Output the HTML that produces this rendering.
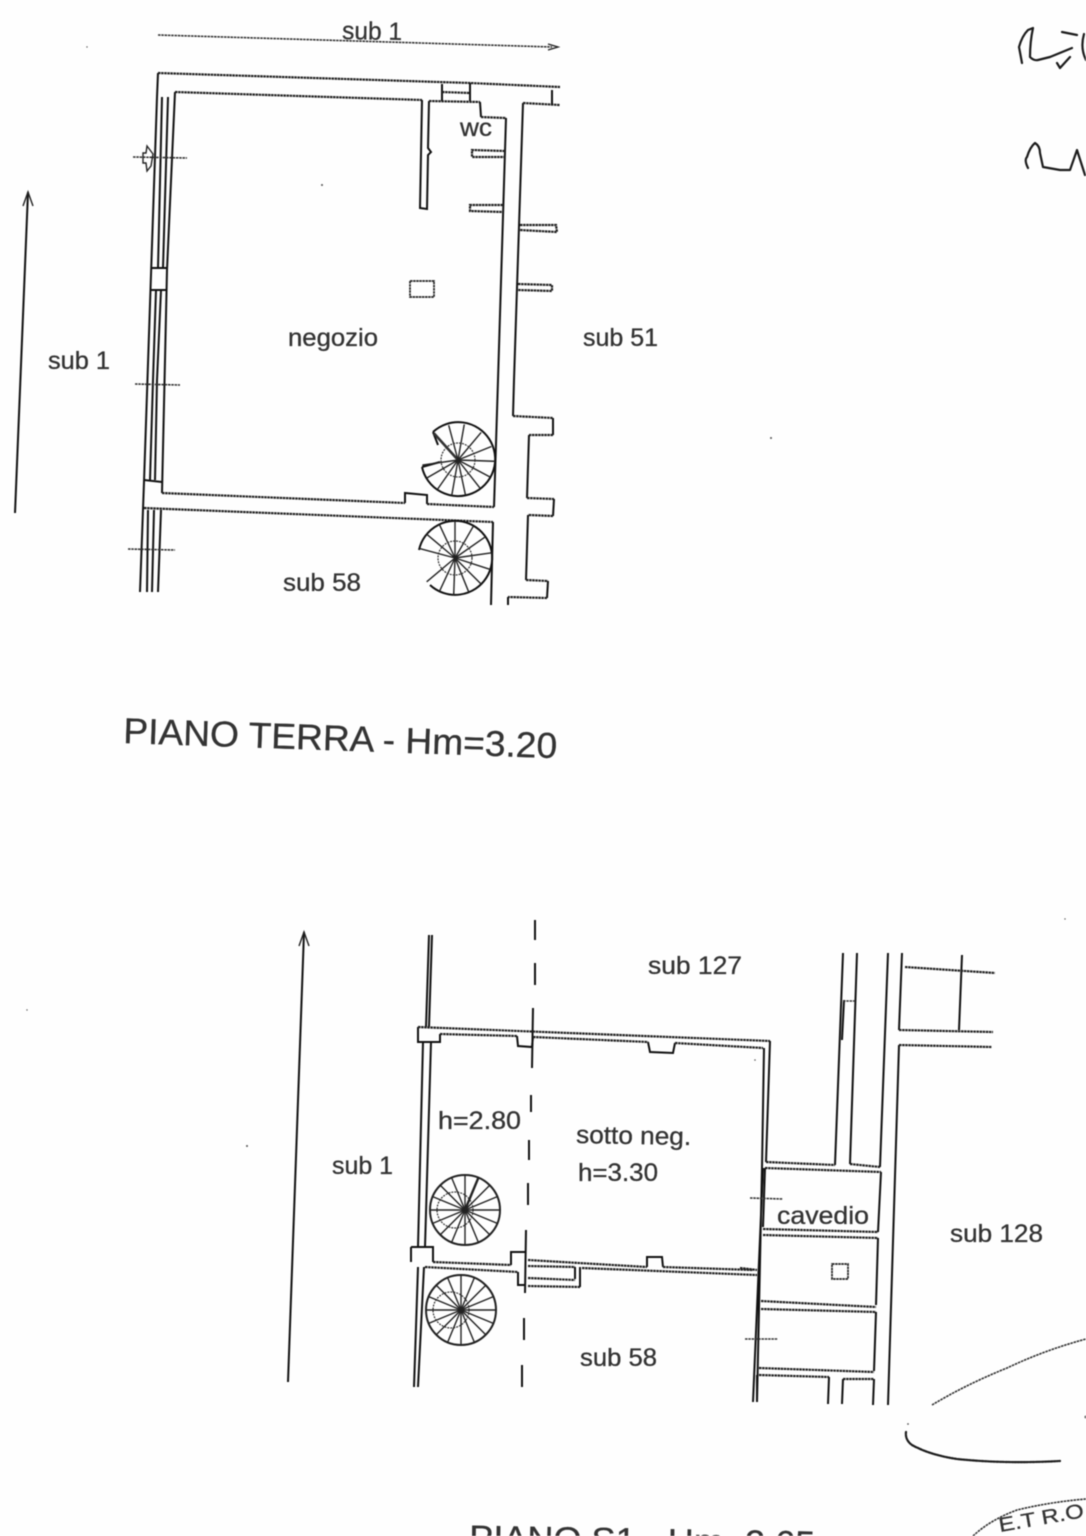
<!DOCTYPE html>
<html>
<head>
<meta charset="utf-8">
<title>Piano Terra / Piano S1</title>
<style>
html,body{margin:0;padding:0;background:#fefefe;}
body{width:1086px;height:1536px;overflow:hidden;}
svg{display:block;filter:blur(0.4px);}
.w{fill:none;stroke:#111;stroke-width:2;}
.d{fill:none;stroke:#222;stroke-width:2.2;stroke-dasharray:2.5 .6;}
.t{fill:none;stroke:#333;stroke-width:1.6;stroke-dasharray:2.5 .8;}
.s{fill:none;stroke:#222;stroke-width:1.4;}
.sd{fill:none;stroke:#333;stroke-width:1.2;stroke-dasharray:2 1;}
.h{fill:none;stroke:#1c1c1c;stroke-width:2.2;stroke-linecap:round;stroke-linejoin:round;}
text{font-family:"Liberation Sans",sans-serif;fill:#333;stroke:#333;stroke-width:.3;font-size:25px;}
</style>
</head>
<body>
<svg width="1086" height="1536" viewBox="0 0 1086 1536" xmlns="http://www.w3.org/2000/svg">
<rect width="1086" height="1536" fill="#fefefe"/>

<!-- ===== PIANO TERRA ===== -->
<path class="t" d="M158,35 L552,47"/>
<path class="s" d="M548,44 L558,47 L548,50"/>
<path class="w" d="M15,513 L28,192"/>
<path class="s" d="M23,206 L28,192 L33,206"/>

<!-- top walls -->
<path class="d" d="M158,73 L470,83 L560,87"/>
<path class="d" d="M175,92 L422,100"/>
<path class="w" d="M422,100 L420,208 L427,209 L428,155 L431,152 L428,148 L429,101"/>
<path class="d" d="M429,101 L480,102"/>
<path class="w" d="M442,84 L442,101 M470,83 L470,101 M480,102 L481,117"/>
<path class="d" d="M442,92 L470,93 M481,117 L506,118"/>
<path class="w" d="M506,118 L498,380 L494,507"/>
<path class="d" d="M505,151 L472,150 L472,157 L505,157 M503,205 L470,205 L470,211 L503,212"/>

<!-- right outer wall -->
<path class="w" d="M523,103 L514,380 L513,416"/>
<path class="d" d="M523,103 L560,105 M513,416 L553,418"/>
<path class="w" d="M552,90 L552,105 M553,418 L553,435"/>
<path class="d" d="M553,435 L529,435"/>
<path class="w" d="M529,435 L527,498"/>
<path class="d" d="M527,498 L554,499"/>
<path class="w" d="M554,499 L553,516"/>
<path class="d" d="M553,516 L528,515"/>
<path class="w" d="M528,515 L526,580"/>
<path class="d" d="M526,580 L548,581"/>
<path class="w" d="M548,581 L547,598"/>
<path class="d" d="M547,598 L508,597"/>
<path class="w" d="M508,597 L508,605"/>
<path class="d" d="M520,225 L556,225 L557,232 L520,230 M518,284 L552,285 L552,291 L518,290"/>

<!-- left facade -->
<path class="w" d="M158,73 L157,97 L144,482 L140,592"/>
<path class="w" d="M162,97 L158,268 M156,290 L153,380 L150,480"/>
<path class="w" d="M168,97 L163,268 M161,290 L157,380 L155,480"/>
<path class="w" d="M175,92 L167,270 L165,360 L162,493"/>
<path class="w" d="M152,268 L168,268 M151,290 L167,290 M144,480 L162,482"/>
<path class="w" d="M148,510 L147,592 M154,510 L152,592 M161,510 L158,592"/>

<!-- bottom wall -->
<path class="d" d="M162,493 L405,503"/>
<path class="w" d="M405,503 L405,493 L427,495 L427,504"/>
<path class="d" d="M427,504 L494,507"/>
<path class="d" d="M144,508 L493,522"/>
<path class="w" d="M493,522 L491,605"/>

<!-- ticks and entrance -->
<path class="t" d="M133,157 L187,158 M135,384 L180,385 M128,549 L175,550"/>
<path class="s" d="M147,146 L153,154 L151,166 L147,171 L146,163 L143,163 L143,153 L146,153 Z"/>

<!-- pillar -->
<rect x="410" y="281" width="24" height="16" fill="none" stroke="#222" stroke-width="1.7" stroke-dasharray="2.5 .6"/>

<!-- spiral stair 1 -->
<path class="w" d="M433,432 A37 37 0 1 1 422,467"/>
<path class="w" d="M422,467 L440,462 M433,432 L438,445"/>
<g transform="translate(458,460)" class="s">
<line x2="36" transform="rotate(-132)" stroke-width="2.6" stroke="#333"/>
<line x2="36" transform="rotate(-105)"/>
<line x2="36" transform="rotate(-80)"/>
<line x2="36" transform="rotate(-50)"/>
<line x2="36" transform="rotate(-22)"/>
<line x2="36" transform="rotate(2)"/>
<line x2="36" transform="rotate(28)"/>
<line x2="36" transform="rotate(52)"/>
<line x2="36" transform="rotate(78)"/>
<line x2="36" transform="rotate(100)"/>
<line x2="36" transform="rotate(125)"/>
<line x2="36" transform="rotate(150)"/>
<line x2="36" transform="rotate(172)"/>
<circle r="17" class="sd"/>
</g>

<!-- spiral stair 2 -->
<path class="w" d="M419,550 A37 37 0 1 1 430,585"/>
<g transform="translate(455,558)" class="s">
<line x2="37" transform="rotate(-165)"/>
<line x2="37" transform="rotate(-140)"/>
<line x2="37" transform="rotate(-115)"/>
<line x2="37" transform="rotate(-90)"/>
<line x2="37" transform="rotate(-60)"/>
<line x2="37" transform="rotate(-35)"/>
<line x2="37" transform="rotate(-8)"/>
<line x2="37" transform="rotate(18)"/>
<line x2="37" transform="rotate(45)"/>
<line x2="37" transform="rotate(68)"/>
<line x2="37" transform="rotate(92)"/>
<line x2="37" transform="rotate(115)"/>
<line x2="37" transform="rotate(140)"/>
<circle r="17" class="sd"/>
</g>

<!-- labels top -->
<text x="342" y="39" textLength="60" lengthAdjust="spacingAndGlyphs" transform="rotate(1 342 39)">sub 1</text>
<text x="288" y="346" textLength="90" lengthAdjust="spacingAndGlyphs">negozio</text>
<text x="460" y="136" textLength="32" lengthAdjust="spacingAndGlyphs">wc</text>
<text x="583" y="346" textLength="75" lengthAdjust="spacingAndGlyphs">sub 51</text>
<text x="48" y="369" textLength="62" lengthAdjust="spacingAndGlyphs">sub 1</text>
<text x="283" y="591" textLength="78" lengthAdjust="spacingAndGlyphs">sub 58</text>
<text x="123" y="743" textLength="434" lengthAdjust="spacingAndGlyphs" transform="rotate(2 123 743)" style="font-size:36px">PIANO TERRA - Hm=3.20</text>

<!-- ===== PIANO S1 ===== -->
<path class="w" d="M288,1382 L304,932"/>
<path class="s" d="M299,946 L304,932 L309,946"/>

<!-- dashed axis -->
<path class="w" d="M535,920 L535,940 M535,963 L535,985 M533,1008 L532,1068 M531,1095 L531,1112 M529,1140 L529,1160 M528,1183 L528,1205 M526,1230 L525,1293 M524,1318 L524,1340 M522,1365 L522,1387"/>

<!-- left walls -->
<path class="w" d="M429,935 L426,1027 M432,935 L429,1027 M423,1042 L418,1247 M431,1042 L425,1247"/>
<path class="w" d="M418,1027 L418,1042 L440,1042 L440,1034 M411,1247 L411,1262 M411,1247 L433,1247 L433,1262"/>
<path class="w" d="M418,1267 L414,1387 M424,1267 L418,1387"/>

<!-- top wall -->
<path class="d" d="M418,1027 L770,1041"/>
<path class="d" d="M440,1034 L517,1036"/>
<path class="w" d="M517,1036 L518,1046 L532,1047 L533,1037"/>
<path class="d" d="M533,1037 L648,1042"/>
<path class="w" d="M648,1042 L650,1052 L673,1053 L675,1043"/>
<path class="d" d="M675,1043 L763,1048"/>
<path class="w" d="M770,1041 L766,1162 M764,1048 L762,1168 L757,1402 M763,1168 L753,1402"/>

<!-- middle wall -->
<path class="d" d="M433,1262 L511,1265"/>
<path class="w" d="M511,1265 L511,1252 L525,1252"/>
<path class="d" d="M425,1267 L518,1272"/>
<path class="w" d="M518,1272 L518,1285 L526,1285"/>
<path class="d" d="M528,1260 L647,1267"/>
<path class="w" d="M647,1267 L647,1257 L662,1257 L663,1267"/>
<path class="d" d="M663,1267 L753,1270 M528,1266 L575,1267 M528,1278 L575,1280 M528,1286 L580,1287 M582,1268 L757,1275"/>
<path class="w" d="M575,1267 L575,1279 M580,1267 L580,1287"/>

<!-- cavedio and shafts -->
<path class="d" d="M766,1162 L835,1165 M850,1164 L880,1167 M765,1168 L881,1172 M763,1229 L878,1232 M763,1235 L878,1238 M761,1301 L876,1307 M761,1309 L876,1312 M759,1368 L874,1372 M759,1375 L829,1377 M843,1379 L874,1379"/>
<path class="w" d="M835,1165 L843,953 M850,1164 L857,953 M880,1167 L888,953 M844,1000 L842,1040"/>
<path class="w" d="M765,1168 L763,1227 M881,1172 L878,1232 M878,1238 L876,1305 M876,1312 L874,1371"/>
<path class="w" d="M829,1377 L828,1404 M757,1375 L757,1402 M843,1379 L842,1404 M874,1379 L873,1405"/>
<path class="t" d="M843,1001 L855,1001 M750,1198 L783,1199 M745,1339 L778,1339"/>
<path class="d" d="M740,1268 L757,1270"/>

<!-- right block -->
<path class="w" d="M902,953 L899,1030 M962,955 L959,1030 M899,1045 L888,1405"/>
<path class="d" d="M905,967 L995,973 M899,1030 L993,1032 M899,1045 L992,1047"/>

<!-- pillar -->
<rect x="832" y="1264" width="16" height="15" fill="none" stroke="#222" stroke-width="1.7" stroke-dasharray="2.5 .6"/>

<!-- full spirals -->
<g transform="translate(465,1210)" class="s">
<circle r="35" stroke-width="2"/>
<circle cx="-10" r="18" class="sd"/>
<line x2="35"/><line x2="35" transform="rotate(22.5)"/><line x2="35" transform="rotate(45)"/><line x2="35" transform="rotate(67.5)"/>
<line x2="35" transform="rotate(90)"/><line x2="35" transform="rotate(112.5)"/><line x2="35" transform="rotate(135)"/><line x2="35" transform="rotate(157.5)"/>
<line x2="35" transform="rotate(180)"/><line x2="35" transform="rotate(202.5)"/><line x2="35" transform="rotate(225)"/><line x2="35" transform="rotate(247.5)"/>
<line x2="35" transform="rotate(270)"/><line x2="35" transform="rotate(292.5)" stroke-width="2.4"/><line x2="35" transform="rotate(315)"/><line x2="35" transform="rotate(337.5)"/>
</g>
<g transform="translate(461,1310)" class="s">
<circle r="35" stroke-width="2"/>
<circle cx="-10" r="18" class="sd"/>
<line x2="35"/><line x2="35" transform="rotate(22.5)"/><line x2="35" transform="rotate(45)"/><line x2="35" transform="rotate(67.5)"/>
<line x2="35" transform="rotate(90)"/><line x2="35" transform="rotate(112.5)"/><line x2="35" transform="rotate(135)"/><line x2="35" transform="rotate(157.5)"/>
<line x2="35" transform="rotate(180)"/><line x2="35" transform="rotate(202.5)"/><line x2="35" transform="rotate(225)"/><line x2="35" transform="rotate(247.5)"/>
<line x2="35" transform="rotate(270)"/><line x2="35" transform="rotate(292.5)"/><line x2="35" transform="rotate(315)"/><line x2="35" transform="rotate(337.5)"/>
</g>

<!-- labels bottom -->
<text x="648" y="974" textLength="94" lengthAdjust="spacingAndGlyphs">sub 127</text>
<text x="438" y="1129" textLength="83" lengthAdjust="spacingAndGlyphs">h=2.80</text>
<text x="576" y="1143" textLength="115" lengthAdjust="spacingAndGlyphs" transform="rotate(1 576 1143)">sotto neg.</text>
<text x="578" y="1181" textLength="80" lengthAdjust="spacingAndGlyphs">h=3.30</text>
<text x="332" y="1174" textLength="61" lengthAdjust="spacingAndGlyphs">sub 1</text>
<text x="777" y="1224" textLength="92" lengthAdjust="spacingAndGlyphs">cavedio</text>
<text x="950" y="1242" textLength="93" lengthAdjust="spacingAndGlyphs">sub 128</text>
<text x="580" y="1366" textLength="77" lengthAdjust="spacingAndGlyphs">sub 58</text>
<text x="469" y="1549" textLength="346" lengthAdjust="spacingAndGlyphs" transform="rotate(1 469 1549)" style="font-size:34px">PIANO S1 - Hm=2.65</text>

<!-- handwriting, curves and stamp -->
<path class="h" d="M1022,63 L1019,47 Q1022,36 1028,30 L1033,28 Q1030,42 1030,57 Q1034,61 1038,60 L1050,57 L1072,48 M1057,63 L1060,68 L1070,57 M1062,32 L1077,35 M1084,34 Q1080,48 1086,60"/>
<path class="h" d="M1028,168 Q1024,160 1027,157 Q1030,147 1035,143 Q1040,146 1040,153 L1043,167 L1060,170 L1070,170 L1077,150 L1085,175"/>
<path class="t" d="M932,1405 Q965,1385 1007,1368 Q1045,1350 1086,1339"/>
<path class="h" d="M906,1432 Q905,1440 912,1445 Q930,1455 957,1459 Q1005,1464 1060,1461" stroke-dasharray="2 1"/>
<path class="t" d="M973,1536 Q990,1520 1017,1510 Q1050,1502 1086,1499"/>
<text x="1000" y="1532" style="font-size:20px" transform="rotate(-10 1000 1532)" textLength="86" lengthAdjust="spacingAndGlyphs">E.T R.O</text>

<!-- specks -->
<g fill="#555">
<circle cx="322" cy="185" r="1"/><circle cx="771" cy="438" r="1"/><circle cx="247" cy="1146" r="1"/>
<circle cx="87" cy="47" r=".7"/><circle cx="27" cy="1010" r=".7"/><circle cx="1065" cy="919" r=".7"/>
<circle cx="755" cy="1060" r=".8"/><circle cx="1086" cy="1417" r="1.5"/><circle cx="908" cy="1424" r=".9"/>
</g>
</svg>
</body>
</html>
